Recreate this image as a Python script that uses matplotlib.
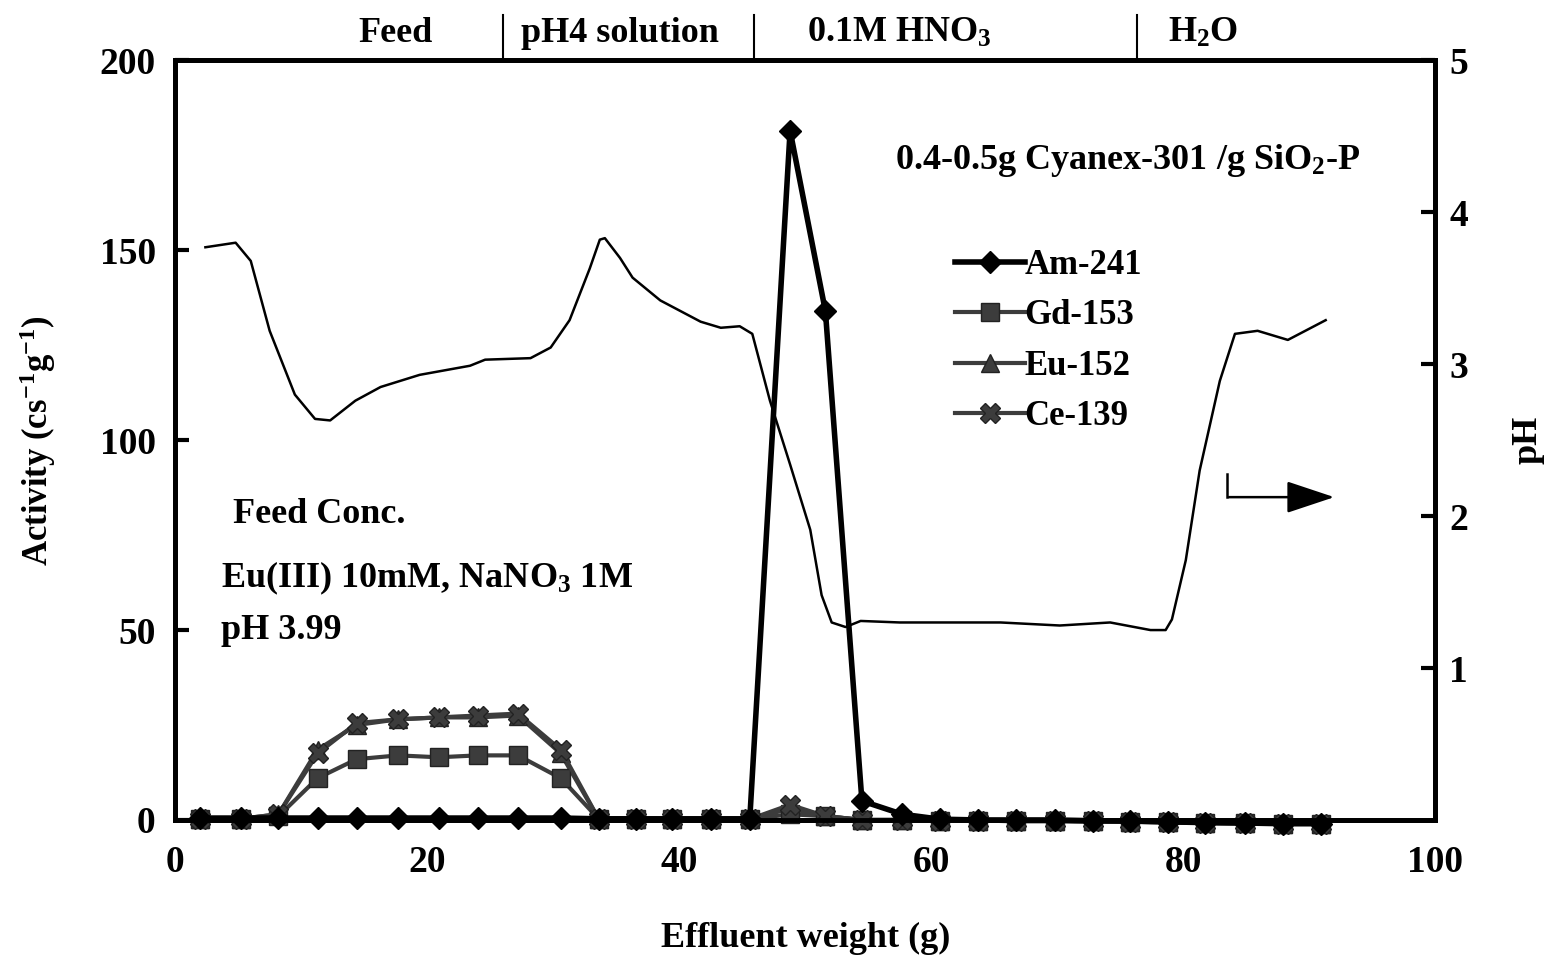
import numpy as np
import matplotlib.pyplot as plt

plt.rcParams['font.family'] = ['Liberation Serif', 'DejaVu Serif']
plt.rcParams['mathtext.fontset'] = 'custom'
plt.rcParams['mathtext.rm'] = 'Liberation Serif:bold'
plt.rcParams['mathtext.bf'] = 'Liberation Serif:bold'
plt.rcParams['mathtext.it'] = 'Liberation Serif:bold:italic'

# effluent weight (g) at each fraction
weight = [2.0, 5.2, 8.2, 11.3, 14.4, 17.7, 20.9, 24.0, 27.2, 30.6,
          33.6, 36.6, 39.4, 42.5, 45.6, 48.8, 51.6, 54.5, 57.7, 60.7,
          63.7, 66.7, 69.8, 72.8, 75.8, 78.8, 81.7, 84.9, 87.9, 90.9]
am241 = [0.5, 0.5, 0.5, 0.5, 0.5, 0.5, 0.5, 0.5, 0.5, 0.5,
         0.3, 0.3, 0.3, 0.3, 0.3, 181.5, 134.0, 5.0, 1.5, 0.2,
         0.0, 0.0, 0.0, -0.2, -0.3, -0.5, -0.7, -0.8, -1.0, -1.0]
gd153 = [0.3, 0.3, 1.0, 11.0, 16.0, 17.0, 16.5, 17.0, 17.0, 11.0,
         0.3, 0.3, 0.2, 0.2, 0.2, 1.5, 1.0, 0.0, 0.0, -0.2,
         -0.2, -0.3, -0.3, -0.4, -0.5, -0.6, -0.8, -0.9, -1.0, -1.0]
eu152 = [0.3, 0.3, 1.5, 18.5, 25.0, 26.5, 27.0, 27.0, 27.5, 17.5,
         0.3, 0.3, 0.2, 0.2, 0.2, 3.0, 1.0, 0.0, 0.0, -0.2,
         -0.2, -0.3, -0.3, -0.4, -0.5, -0.6, -0.8, -0.9, -1.0, -1.0]
ce139 = [0.3, 0.3, 1.5, 17.5, 25.5, 26.5, 27.0, 27.5, 28.0, 18.5,
         0.3, 0.3, 0.2, 0.2, 0.2, 4.0, 1.0, 0.0, 0.0, -0.2,
         -0.2, -0.3, -0.3, -0.4, -0.5, -0.6, -0.8, -0.9, -1.0, -1.0]

# pH of effluent (right axis)
ph_x = [2.4, 4.8, 6.0, 7.5, 9.5, 11.1, 12.3, 14.3, 16.3, 19.4, 23.4, 24.6,
        28.2, 29.8, 31.3, 32.9, 33.7, 34.1, 35.3, 36.3, 38.5, 41.7, 43.3,
        44.8, 45.8, 47.2, 48.8, 50.4, 51.3, 52.1, 53.2, 54.4, 57.5, 65.5,
        70.2, 74.2, 77.4, 78.6, 79.1, 80.2, 81.3, 82.9, 84.1, 85.9, 88.3, 91.3]
ph_y = [3.77, 3.80, 3.68, 3.22, 2.80, 2.64, 2.63, 2.76, 2.85, 2.93, 2.99, 3.03,
        3.04, 3.11, 3.29, 3.63, 3.82, 3.83, 3.70, 3.57, 3.42, 3.28, 3.24,
        3.25, 3.20, 2.76, 2.34, 1.91, 1.48, 1.30, 1.27, 1.31, 1.30, 1.30,
        1.28, 1.30, 1.25, 1.25, 1.32, 1.71, 2.30, 2.89, 3.20, 3.22, 3.16, 3.29]

steps = ['Feed', 'pH4 solution', '0.1M HNO$_3$', 'H$_2$O']
step_x = [17.5, 35.3, 57.5, 81.6]
step_bounds = [26.0, 45.9, 76.3]

fig = plt.figure(figsize=(15.5, 9.59), dpi=100)
ax = fig.add_axes([0.113, 0.145, 0.813, 0.792])

gray = '#3c3c3c'
ax.plot(weight, am241, color='black', lw=4, marker='D', ms=11,
        mfc='black', mec='black', label='Am-241', zorder=5, clip_on=False)
ax.plot(weight, gd153, color=gray, lw=3, marker='s', ms=13,
        mfc=gray, mec='#222222', label='Gd-153', zorder=4, clip_on=False)
ax.plot(weight, eu152, color=gray, lw=3, marker='^', ms=13,
        mfc=gray, mec='#222222', label='Eu-152', zorder=3, clip_on=False)
ax.plot(weight, ce139, color=gray, lw=3, marker='X', ms=14,
        mfc=gray, mec='#222222', label='Ce-139', zorder=4, clip_on=False)

ax.set_xlim(0, 100)
ax.set_ylim(0, 200)
ax.set_xticks([0, 20, 40, 60, 80, 100])
ax.set_yticks([0, 50, 100, 150, 200])

ax2 = ax.twinx()
ax2.plot(ph_x, ph_y, color='black', lw=1.8)
ax2.set_ylim(0, 5)
ax2.set_yticks([1, 2, 3, 4, 5])

for a in (ax, ax2):
    for s in a.spines.values():
        s.set_linewidth(3.5)
    a.tick_params(direction='in', length=10, width=3, labelsize=27)
    for lab in a.get_xticklabels() + a.get_yticklabels():
        lab.set_fontweight('bold')
ax.tick_params(axis='x', length=0, pad=18)
ax.tick_params(axis='y', pad=14)
ax2.tick_params(axis='y', pad=10)

ax.set_xlabel('Effluent weight (g)', fontsize=26, fontweight='bold', labelpad=30)
ax.set_ylabel('Activity (cs$^{-1}$g$^{-1}$)', fontsize=25,
              fontweight='bold', labelpad=30)
ax2.set_ylabel('pH', fontsize=26, fontweight='bold', labelpad=31)

leg = ax.legend(loc='upper left', bbox_to_anchor=(0.608, 0.77), frameon=False,
                fontsize=25, handlelength=2.0, handletextpad=0.0,
                labelspacing=0.5, borderaxespad=0)
for t in leg.get_texts():
    t.set_fontweight('bold')

ax.text(57.1, 173.7, '0.4-0.5g Cyanex-301 /g SiO$_2$-P', fontsize=26,
        fontweight='bold', va='center', ha='left')
ax.text(4.6, 80.3, 'Feed Conc.', fontsize=26, fontweight='bold', va='center')
ax.text(3.6, 63.7, 'Eu(III) 10mM, NaNO$_3$ 1M', fontsize=26,
        fontweight='bold', va='center')
ax.text(3.6, 50.0, 'pH 3.99', fontsize=26, fontweight='bold', va='center')

for lab, xc in zip(steps, step_x):
    ax.text(xc, 207, lab, fontsize=26, fontweight='bold', ha='center',
            va='center', clip_on=False)
for xb in step_bounds:
    ax.plot([xb, xb], [200, 212], color='black', lw=1.5, clip_on=False)

# arrow pointing to the pH axis
ax.plot([83.5, 83.5], [91, 85], color='black', lw=1.8)
ax.annotate('', xy=(92.2, 85), xytext=(83.4, 85),
            arrowprops=dict(arrowstyle='-|>,head_length=1.5,head_width=0.5',
                            mutation_scale=20, color='black', lw=1.8))

plt.savefig('out.png', dpi=100)
